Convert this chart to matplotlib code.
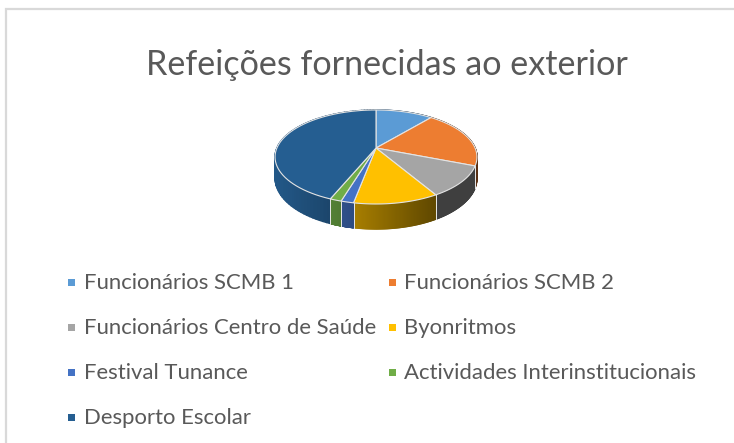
"""Refeições fornecidas ao exterior: tilted 3D pie with a two-column legend."""

import matplotlib

matplotlib.use("Agg")
import matplotlib.pyplot as plt
import numpy as np
from matplotlib.collections import PolyCollection
from matplotlib.patches import Polygon

categories = [
    "Funcionários SCMB 1",
    "Funcionários SCMB 2",
    "Funcionários Centro de Saúde",
    "Byonritmos",
    "Festival Tunance",
    "Actividades Interinstitucionais",
    "Desporto Escolar",
]
values = [11.0, 20.0, 10.6, 11.35, 1.7, 1.55, 43.8]
colors = ["#5b9bd5", "#ed7d31", "#a5a5a5", "#ffc000", "#4472c4", "#70ad47", "#255e91"]
title = "Refeições fornecidas ao exterior"

WIDTH, HEIGHT = 734, 443
CX, CY = 376, 148
A, B, K = 99.1, 45.3, 0.191
TEXT = "#595959"
EDGE = "#e4e4e4"


def project(theta):
    """Map clockwise-from-top pie angles to the tilted disc in pixels."""
    u, v = np.sin(theta), -np.cos(theta)
    w = 1 - K * v
    return CX + A * u / w, CY + B * v / w, v


def rim(start, stop, n=60):
    x, y, v = project(np.linspace(start, stop, n))
    return np.column_stack([x, y]), v


plt.rcParams["font.family"] = ["Lato", "DejaVu Sans"]
fig = plt.figure(figsize=(WIDTH / 100, HEIGHT / 100), dpi=100)
ax = fig.add_axes([0, 0, 1, 1])
ax.set_xlim(0, WIDTH)
ax.set_ylim(HEIGHT, 0)
ax.axis("off")

# chart frame, only top and left survive the crop
ax.plot([6, 6, WIDTH], [HEIGHT, 9, 9], color="#d9d9d9", lw=1.6, solid_joinstyle="miter")

ax.text(387, 65, title, ha="center", va="center", fontsize=24.6, color=TEXT)

edges = 2 * np.pi * np.concatenate([[0], np.cumsum(values)]) / np.sum(values)

# side wall first, so the top surface sits over it
for start, stop, color in zip(edges[:-1], edges[1:], colors):
    pts, v = rim(start, stop, 80)
    depth = 20 + 5 * np.clip(v, 0, 1)
    low = pts + np.column_stack([np.zeros(len(pts)), depth])
    quads, shades = [], []
    base = np.array(matplotlib.colors.to_rgb(color))
    for i in range(len(pts) - 1):
        quads.append([pts[i], pts[i + 1], low[i + 1], low[i]])
        off = (pts[i, 0] + pts[i + 1, 0]) / 2 - CX
        shades.append(base * np.clip(0.58 - 0.0035 * off, 0.38, 0.95))
    ax.add_collection(PolyCollection(quads, facecolors=shades, edgecolors=shades, linewidths=1.0, zorder=2))
    for i in (0, -1):
        if v[i] > -0.1:
            ax.plot([pts[i, 0], low[i, 0]], [pts[i, 1], low[i, 1]], color=EDGE, lw=0.7, zorder=3)

for start, stop, color in zip(edges[:-1], edges[1:], colors):
    pts, _ = rim(start, stop)
    outline = np.vstack([[CX, CY], pts])
    ax.add_patch(Polygon(outline, closed=True, facecolor=color, edgecolor=EDGE, lw=0.8, zorder=4))

# legend placed by hand, Excel style: rows top to bottom, two columns
legend_x = [68, 389]
legend_y = [282, 327, 372, 417]
for i, (name, color) in enumerate(zip(categories, colors)):
    x, y = legend_x[i % 2], legend_y[i // 2]
    ax.add_patch(plt.Rectangle((x, y - 3.5), 7, 7, facecolor=color, edgecolor="none", zorder=4))
    ax.text(x + 15.5, y + 0.8, name, ha="left", va="center", fontsize=15.9, color=TEXT)

fig.savefig("out.png", dpi=100)
